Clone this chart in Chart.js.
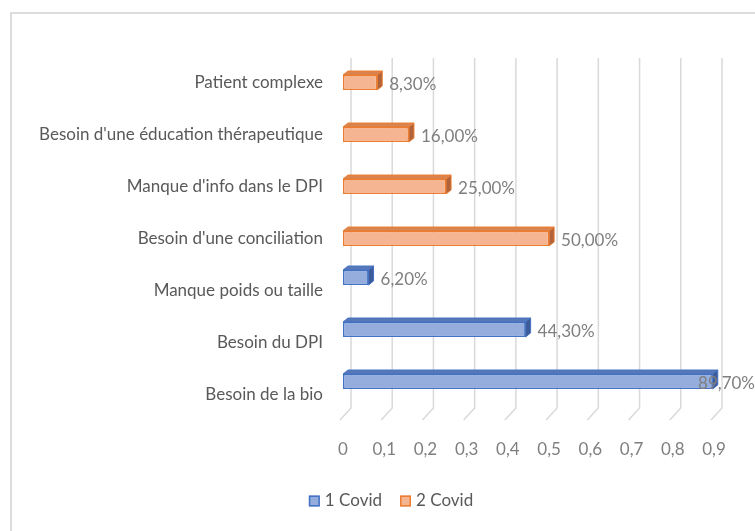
<!DOCTYPE html>
<html>
<head>
<meta charset="utf-8">
<script src="https://cdn.jsdelivr.net/npm/chart.js@4.4.0/dist/chart.umd.min.js"></script>
<style>
  html, body { margin: 0; padding: 0; background: #fff; }
  #wrap { position: relative; width: 755px; height: 531px; overflow: hidden; }
  #frame { position: absolute; left: 10px; top: 12px; width: 800px; height: 600px;
           border: 2px solid #dcdcdc; box-sizing: border-box; }
  canvas { position: absolute; left: 0; top: 0; }
</style>
</head>
<body>
<div id="wrap">
  <div id="frame"></div>
  <canvas id="chart" width="755" height="531"></canvas>
</div>
<script>
// categories, top to bottom
const categories = [
  "Patient complexe",
  "Besoin d'une éducation thérapeutique",
  "Manque d'info dans le DPI",
  "Besoin d'une conciliation",
  "Manque poids ou taille",
  "Besoin du DPI",
  "Besoin de la bio"
];
const covid1 = [null, null, null, null, 0.062, 0.443, 0.897];
const covid2 = [0.083, 0.16, 0.25, 0.5, null, null, null];
const xTicks = [0, 0.1, 0.2, 0.3, 0.4, 0.5, 0.6, 0.7, 0.8, 0.9];

const FONT = 'Lato';
const FONT_SIZE = 17;
const DX = 5, DY = 4;   // depth of the 3d faces
const faceColors = [
  { top: '#5877b9', side: '#3d5a99' },
  { top: '#d9834f', side: '#b0623a' }
];

function pct(v) {
  return (v * 100).toFixed(2).replace('.', ',') + '%';
}

// back wall grid lines folding onto the floor
const wallGrid = {
  id: 'wallGrid',
  beforeDatasetsDraw(chart) {
    const { ctx, chartArea } = chart;
    const xs = chart.scales.x;
    ctx.save();
    ctx.strokeStyle = '#d9d9d9';
    ctx.lineWidth = 1.5;
    xTicks.forEach(v => {
      const px = xs.getPixelForValue(v);
      ctx.beginPath();
      ctx.moveTo(px + 8, chartArea.top + 8);
      ctx.lineTo(px + 8, chartArea.bottom - 6);
      ctx.lineTo(px - 3, chartArea.bottom + 6);
      ctx.stroke();
    });
    ctx.restore();
  }
};

// top and side faces of each bar, then the value labels
const bars3d = {
  id: 'bars3d',
  afterDatasetsDraw(chart) {
    const ctx = chart.ctx;
    ctx.save();
    chart.data.datasets.forEach((ds, di) => {
      const fc = faceColors[di];
      chart.getDatasetMeta(di).data.forEach((bar, i) => {
        if (ds.data[i] == null) return;
        const { x, y, base, height } = bar.getProps(['x', 'y', 'base', 'height'], true);
        const t = y - height / 2, b = y + height / 2;
        ctx.lineWidth = 1;
        ctx.strokeStyle = ds.borderColor;
        ctx.fillStyle = fc.top;
        ctx.beginPath();
        ctx.moveTo(base, t);
        ctx.lineTo(base + DX, t - DY);
        ctx.lineTo(x + DX, t - DY);
        ctx.lineTo(x, t);
        ctx.closePath();
        ctx.fill();
        ctx.stroke();
        ctx.fillStyle = fc.side;
        ctx.beginPath();
        ctx.moveTo(x, t);
        ctx.lineTo(x + DX, t - DY);
        ctx.lineTo(x + DX, b - DY);
        ctx.lineTo(x, b);
        ctx.closePath();
        ctx.fill();
        ctx.stroke();
      });
    });
    ctx.font = FONT_SIZE + 'px ' + FONT;
    ctx.fillStyle = '#7f7f7f';
    ctx.textBaseline = 'middle';
    ctx.textAlign = 'left';
    chart.data.datasets.forEach((ds, di) => {
      chart.getDatasetMeta(di).data.forEach((bar, i) => {
        if (ds.data[i] == null) return;
        const { x, y } = bar.getProps(['x', 'y'], true);
        const txt = pct(ds.data[i]);
        const w = ctx.measureText(txt).width;
        const lx = Math.min(x + 12, chart.width - w);
        ctx.fillText(txt, lx, y + 2);
      });
    });
    ctx.restore();
  }
};

// legend under the plot, square swatches
const bottomLegend = {
  id: 'bottomLegend',
  afterDraw(chart) {
    const ctx = chart.ctx;
    const ds = chart.data.datasets;
    const box = 11, gap = 5, spacing = 18, cy = 501;
    ctx.save();
    ctx.font = FONT_SIZE + 'px ' + FONT;
    ctx.textBaseline = 'middle';
    const widths = ds.map(d => box + gap + ctx.measureText(d.label).width);
    const total = widths.reduce((a, b) => a + b, 0) + spacing * (ds.length - 1);
    let x = 391 - total / 2;
    ds.forEach((d, i) => {
      ctx.fillStyle = d.backgroundColor;
      ctx.strokeStyle = d.borderColor;
      ctx.lineWidth = 1.5;
      ctx.fillRect(x, cy - box / 2, box, box);
      ctx.strokeRect(x + 0.75, cy - box / 2 + 0.75, box - 1.5, box - 1.5);
      ctx.fillStyle = '#595959';
      ctx.fillText(d.label, x + box + gap, cy);
      x += widths[i] + spacing;
    });
    ctx.restore();
  }
};

new Chart(document.getElementById('chart'), {
  type: 'bar',
  data: {
    labels: categories,
    datasets: [
      {
        label: '1 Covid',
        data: covid1,
        backgroundColor: '#94addd',
        borderColor: '#4472c4',
        borderWidth: 1.5,
        borderSkipped: false,
        categoryPercentage: 0.5,
        barPercentage: 1.15
      },
      {
        label: '2 Covid',
        data: covid2,
        backgroundColor: '#f5b592',
        borderColor: '#ed7d31',
        borderWidth: 1.5,
        borderSkipped: false,
        categoryPercentage: 0.5,
        barPercentage: 1.15
      }
    ]
  },
  options: {
    indexAxis: 'y',
    responsive: false,
    animation: false,
    layout: { padding: { top: 50, right: 41, left: 0, bottom: 52 } },
    scales: {
      x: {
        min: 0,
        max: 0.9,
        afterBuildTicks(scale) { scale.ticks = xTicks.map(v => ({ value: v })); },
        afterFit(scale) { scale.height = 65; },
        grid: { display: false, drawTicks: false },
        border: { display: false },
        ticks: {
          padding: 25,
          color: '#7f7f7f',
          font: { family: FONT, size: FONT_SIZE }
        ,
          callback: v => String(Math.round(v * 10) / 10).replace('.', ',')
        }
      },
      y: {
        afterFit(scale) { scale.width = 343; },
        grid: { display: false, drawTicks: false },
        border: { display: false },
        ticks: {
          padding: 20,
          labelOffset: 6.5,
          color: '#595959',
          font: { family: FONT, size: FONT_SIZE }
        }
      }
    },
    plugins: {
      legend: { display: false },
      tooltip: { enabled: false }
    }
  },
  plugins: [wallGrid, bars3d, bottomLegend]
});
</script>
</body>
</html>
